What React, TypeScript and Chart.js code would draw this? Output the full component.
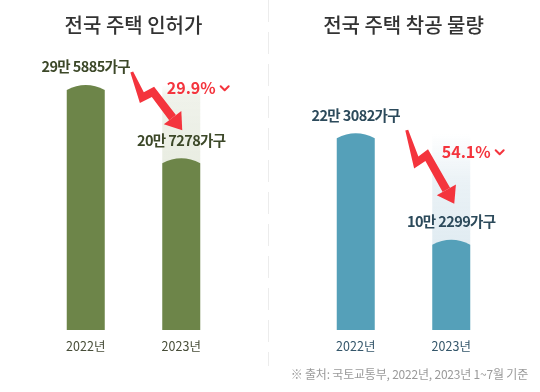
import React, { useEffect, useRef } from 'react';
import { Chart, registerables } from 'chart.js';

Chart.register(...registerables);

const FONT = '"Noto Sans CJK KR", "Noto Sans", sans-serif';

const years = ['2022년', '2023년'];

const permitTitle = '전국 주택 인허가';
const permitValues = [295885, 207278];
const permitLabels = ['29만 5885가구', '20만 7278가구'];
const permitChange = '29.9%';

const startTitle = '전국 주택 착공 물량';
const startValues = [223082, 102299];
const startLabels = ['22만 3082가구', '10만 2299가구'];
const startChange = '54.1%';

const sourceNote = '※ 출처: 국토교통부, 2022년, 2023년 1~7월 기준';

type Panel = {
  title: string;
  values: number[];
  labels: string[];
  change: string;
  yMax: number;
  barColor: string;
  ghost: string; // "r,g,b"
  ghostFade: number;
  labelColor: string;
  tickColor: string;
  arrow: { sdx: number; sdy: number; edx: number; edy: number; pctFrac: number };
};

const panels: Panel[] = [
  {
    title: permitTitle,
    values: permitValues,
    labels: permitLabels,
    change: permitChange,
    yMax: 326000,
    barColor: '#6d8549',
    ghost: '233,237,226',
    ghostFade: 0.15,
    labelColor: '#3c4828',
    tickColor: '#474d38',
    arrow: { sdx: 46, sdy: -13, edx: 1, edy: -28, pctFrac: 0.28 },
  },
  {
    title: startTitle,
    values: startValues,
    labels: startLabels,
    change: startChange,
    yMax: 306000,
    barColor: '#55a0b9',
    ghost: '225,236,242',
    ghostFade: 0.45,
    labelColor: '#2c4a5b',
    tickColor: '#34566a',
    arrow: { sdx: 51, sdy: -3, edx: 3, edy: -36, pctFrac: 0.3 },
  },
];

const RED = '#f4343d';

function drawBolt(ctx: CanvasRenderingContext2D, sx: number, sy: number, ex: number, ey: number) {
  const dx = ex - sx;
  const dy = ey - sy;
  const headLen = 16;
  const headW = 22;
  const A = { x: sx + 0.2 * dx, y: sy + 0.44 * dy };
  const B = { x: sx + 0.42 * dx, y: sy + 0.34 * dy };
  const vx = ex - B.x;
  const vy = ey - B.y;
  const vl = Math.hypot(vx, vy);
  const ux = vx / vl;
  const uy = vy / vl;
  const H = { x: ex - ux * headLen, y: ey - uy * headLen };
  const pts = [{ x: sx, y: sy }, A, B, H];
  const widths = [3, 7.5, 8, 8.5];
  const segN = (p: any, q: any) => {
    const l = Math.hypot(q.x - p.x, q.y - p.y);
    return { x: -(q.y - p.y) / l, y: (q.x - p.x) / l };
  };
  const left: any[] = [];
  const right: any[] = [];
  for (let i = 0; i < pts.length; i++) {
    let n;
    if (i === 0) n = segN(pts[0], pts[1]);
    else if (i === pts.length - 1) n = segN(pts[i - 1], pts[i]);
    else {
      const n1 = segN(pts[i - 1], pts[i]);
      const n2 = segN(pts[i], pts[i + 1]);
      const ax = n1.x + n2.x;
      const ay = n1.y + n2.y;
      const al = Math.hypot(ax, ay) || 1;
      const nx = ax / al;
      const ny = ay / al;
      const d = Math.max(0.35, nx * n1.x + ny * n1.y);
      n = { x: nx / d, y: ny / d };
    }
    const w = widths[i] / 2;
    left.push({ x: pts[i].x + n.x * w, y: pts[i].y + n.y * w });
    right.push({ x: pts[i].x - n.x * w, y: pts[i].y - n.y * w });
  }
  ctx.save();
  ctx.fillStyle = RED;
  ctx.beginPath();
  ctx.moveTo(left[0].x, left[0].y);
  for (let i = 1; i < left.length; i++) ctx.lineTo(left[i].x, left[i].y);
  for (let i = right.length - 1; i >= 0; i--) ctx.lineTo(right[i].x, right[i].y);
  ctx.closePath();
  ctx.fill();
  const px = -uy;
  const py = ux;
  ctx.beginPath();
  ctx.moveTo(ex, ey);
  ctx.lineTo(H.x + (px * headW) / 2, H.y + (py * headW) / 2);
  ctx.lineTo(H.x - (px * headW) / 2, H.y - (py * headW) / 2);
  ctx.closePath();
  ctx.fill();
  ctx.restore();
}

function makePlugin(p: Panel) {
  return {
    id: 'infographic',
    afterDatasetsDraw(chart: any) {
      const ctx: CanvasRenderingContext2D = chart.ctx;
      const meta = chart.getDatasetMeta(0);
      const els = meta.data as any[];
      const b1 = els[0];
      const b2 = els[1];
      const arch = 5;
      ctx.save();
      // ghost behind second bar
      const gTop = b1.y;
      const gBot = b2.y + arch;
      const g = ctx.createLinearGradient(0, gTop, 0, gBot);
      g.addColorStop(0, `rgba(${p.ghost},0)`);
      g.addColorStop(p.ghostFade, `rgba(${p.ghost},0.7)`);
      g.addColorStop(1, `rgba(${p.ghost},1)`);
      ctx.fillStyle = g;
      ctx.fillRect(b2.x - b2.width / 2, gTop, b2.width, gBot - gTop);

      // bars with arched tops
      for (const el of els) {
        const l = el.x - el.width / 2;
        const r = el.x + el.width / 2;
        ctx.fillStyle = p.barColor;
        ctx.beginPath();
        ctx.moveTo(l, el.base);
        ctx.lineTo(l, el.y + arch);
        ctx.quadraticCurveTo(el.x, el.y - arch, r, el.y + arch);
        ctx.lineTo(r, el.base);
        ctx.closePath();
        ctx.fill();
      }

      // arrow
      const sx = b1.x + p.arrow.sdx;
      const sy = b1.y + p.arrow.sdy;
      const ex = b2.x + p.arrow.edx;
      const ey = b2.y + p.arrow.edy;
      drawBolt(ctx, sx, sy, ex, ey);

      // value labels
      ctx.font = `bold 14.5px ${FONT}`;
      (ctx as any).letterSpacing = '-0.6px';
      ctx.fillStyle = p.labelColor;
      ctx.textAlign = 'center';
      ctx.textBaseline = 'middle';
      els.forEach((el, i) => {
        ctx.fillText(p.labels[i], el.x, el.y - 18);
      });

      // percentage
      const py = sy + p.arrow.pctFrac * (ey - sy);
      const px = sx + 35;
      ctx.font = `bold 16px ${FONT}`;
      (ctx as any).letterSpacing = '0px';
      ctx.fillStyle = RED;
      ctx.textAlign = 'left';
      ctx.fillText(p.change, px, py);
      const tw = ctx.measureText(p.change).width;
      const cx = px + tw + 9;
      ctx.strokeStyle = RED;
      ctx.lineWidth = 2;
      ctx.lineCap = 'round';
      ctx.lineJoin = 'round';
      ctx.beginPath();
      ctx.moveTo(cx - 4, py - 2);
      ctx.lineTo(cx, py + 2);
      ctx.lineTo(cx + 4, py - 2);
      ctx.stroke();
      ctx.restore();
    },
  };
}

function PanelChart({ p, left }: { p: Panel; left: number }) {
  const ref = useRef<HTMLCanvasElement>(null);
  useEffect(() => {
    if (!ref.current) return;
    const chart = new Chart(ref.current, {
      type: 'bar',
      data: {
        labels: years,
        datasets: [
          {
            data: p.values,
            backgroundColor: 'rgba(0,0,0,0)',
            borderWidth: 0,
            barThickness: 38,
          },
        ],
      },
      options: {
        responsive: false,
        animation: false,
        events: [],
        layout: { padding: { left: 38, right: 41, top: 0, bottom: 29 } },
        plugins: {
          legend: { display: false },
          tooltip: { enabled: false },
          title: {
            display: true,
            text: p.title,
            color: '#333333',
            font: { family: FONT, size: 20, weight: '500' as any },
            padding: { top: 13, bottom: 23 },
          },
        },
        scales: {
          x: {
            grid: { display: false, drawTicks: false },
            border: { display: false },
            ticks: {
              color: p.tickColor,
              font: { family: FONT, size: 12.5 },
              padding: 9,
            },
          },
          y: {
            display: false,
            min: 0,
            max: p.yMax,
          },
        },
      },
      plugins: [makePlugin(p)],
    });
    return () => chart.destroy();
  }, [p]);
  return (
    <div style={{ position: 'absolute', left, top: 0, width: 270, height: 392 }}>
      <canvas ref={ref} width={270} height={392} style={{ display: 'block' }} />
    </div>
  );
}

export default function App() {
  return (
    <div
      style={{
        position: 'absolute',
        left: 0,
        top: 0,
        width: 540,
        height: 392,
        background: '#ffffff',
        overflow: 'hidden',
      }}
    >
      <PanelChart p={panels[0]} left={0} />
      <PanelChart p={panels[1]} left={270} />
      <div
        style={{
          position: 'absolute',
          left: 268,
          top: 0,
          width: 1,
          height: 366,
          background:
            'repeating-linear-gradient(to bottom, #ececec 0px, #ececec 22px, transparent 22px, transparent 32px)',
        }}
      />
      <div
        style={{
          position: 'absolute',
          right: 12,
          top: 366,
          fontFamily: FONT,
          fontSize: 12,
          lineHeight: '16px',
          color: '#9a9a9a',
          letterSpacing: '-0.2px',
          whiteSpace: 'nowrap',
        }}
      >
        {sourceNote}
      </div>
    </div>
  );
}
